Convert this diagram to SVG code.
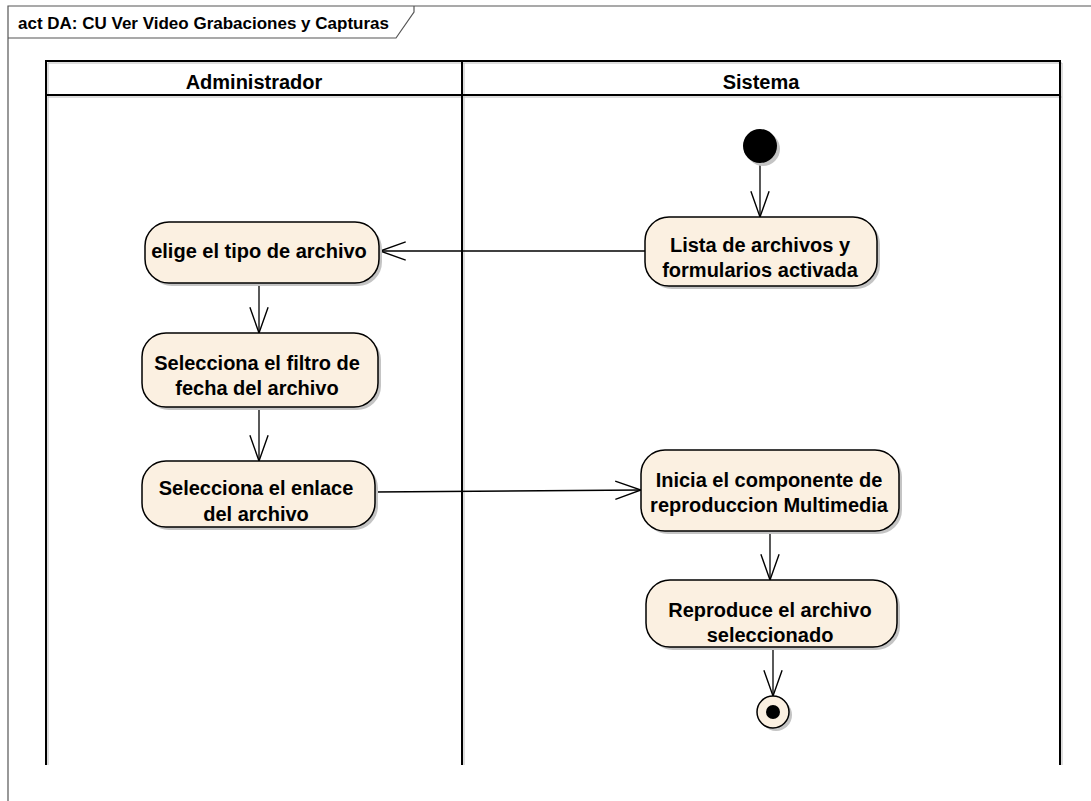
<svg xmlns="http://www.w3.org/2000/svg" width="1091" height="801" viewBox="0 0 1091 801">
  <defs>
    <style>
      .frame { fill: none; stroke: #555; stroke-width: 1.2; }
      .lane { fill: none; stroke: #000; stroke-width: 2; }
      .laneShadow { fill: none; stroke: #bbb; stroke-width: 1; }
      .title { font-family: "Liberation Sans", Arial, sans-serif; font-weight: bold; font-size: 17px; fill: #000; }
      .label { font-family: "Liberation Sans", Arial, sans-serif; font-weight: bold; font-size: 20px; fill: #000; text-anchor: middle; }
      .act { fill: #FBF0E1; stroke: #000; stroke-width: 1.5; }
      .shadow { fill: #c4c4c4; }
      .flow { fill: none; stroke: #000; stroke-width: 1.3; marker-end: url(#open); }
    </style>
    <marker id="open" markerUnits="userSpaceOnUse" markerWidth="30" markerHeight="24" viewBox="-26 -10 28 20" refX="0" refY="0" orient="auto">
      <path d="M -24 -8.5 L 0 0 L -24 8.5" fill="none" stroke="#000" stroke-width="1.3"/>
    </marker>
  </defs>

  <rect width="1091" height="801" fill="#fff"/>

  <!-- diagram frame with name tab -->
  <g id="frame">
    <path class="frame" d="M 8 801 L 8 6 L 1091 6"/>
    <polyline class="frame" points="8,38 396,38 414,12 414,6"/>
    <text class="title" x="18" y="29">act DA: CU Ver Video Grabaciones y Capturas</text>
  </g>

  <!-- swimlanes -->
  <g id="lanes">
    <path class="laneShadow" d="M 48 63 L 1062 63 M 48 97 L 1062 97 M 48 63 L 48 765 M 464 63 L 464 765 M 1062 63 L 1062 765"/>
    <path class="lane" d="M 46 765 L 46 61 L 1060 61 L 1060 765 M 46 95 L 1060 95 M 462 61 L 462 765"/>
    <text class="label" x="254" y="89">Administrador</text>
    <text class="label" x="761" y="89">Sistema</text>
  </g>

  <!-- connectors -->
  <g id="connectors">
    <line class="flow" x1="760" y1="163" x2="760" y2="217"/>
    <line class="flow" x1="645" y1="251" x2="380" y2="251"/>
    <line class="flow" x1="259" y1="283" x2="259" y2="333"/>
    <line class="flow" x1="259" y1="407" x2="259" y2="461"/>
    <line class="flow" x1="375" y1="492" x2="641" y2="490"/>
    <line class="flow" x1="770" y1="531" x2="770" y2="580"/>
    <line class="flow" x1="773" y1="647" x2="773" y2="696"/>
  </g>

  <!-- initial node -->
  <g id="start">
    <circle class="shadow" cx="763" cy="149" r="17"/>
    <circle cx="760" cy="146" r="17" fill="#000"/>
  </g>

  <g id="lista">
    <rect class="shadow" x="648" y="220" width="232" height="69" rx="24"/>
    <rect class="act" x="645" y="217" width="232" height="69" rx="24"/>
    <text class="label" x="760" y="252">Lista de archivos y</text>
    <text class="label" x="760" y="277">formularios activada</text>
  </g>

  <g id="elige">
    <rect class="shadow" x="148" y="225" width="234" height="61" rx="24"/>
    <rect class="act" x="145" y="222" width="234" height="61" rx="24"/>
    <text class="label" x="259" y="258">elige el tipo de archivo</text>
  </g>

  <g id="filtro">
    <rect class="shadow" x="145" y="336" width="236" height="74" rx="24"/>
    <rect class="act" x="142" y="333" width="236" height="74" rx="24"/>
    <text class="label" x="257" y="370">Selecciona el filtro de</text>
    <text class="label" x="257" y="395">fecha del archivo</text>
  </g>

  <g id="enlace">
    <rect class="shadow" x="145" y="464" width="233" height="66" rx="24"/>
    <rect class="act" x="142" y="461" width="233" height="66" rx="24"/>
    <text class="label" x="256" y="495">Selecciona el enlace</text>
    <text class="label" x="256" y="521">del archivo</text>
  </g>

  <g id="inicia">
    <rect class="shadow" x="644" y="453" width="258" height="81" rx="24"/>
    <rect class="act" x="641" y="450" width="258" height="81" rx="24"/>
    <text class="label" x="769" y="487">Inicia el componente de</text>
    <text class="label" x="769" y="512">reproduccion Multimedia</text>
  </g>

  <g id="reproduce">
    <rect class="shadow" x="649" y="583" width="251" height="67" rx="24"/>
    <rect class="act" x="646" y="580" width="251" height="67" rx="24"/>
    <text class="label" x="770" y="617">Reproduce el archivo</text>
    <text class="label" x="770" y="642">seleccionado</text>
  </g>

  <!-- final node -->
  <g id="end">
    <circle class="shadow" cx="776" cy="715" r="16"/>
    <circle cx="773" cy="712" r="16" fill="#FBF0E1" stroke="#000" stroke-width="1.5"/>
    <circle cx="773" cy="712" r="7" fill="#000"/>
  </g>
</svg>
